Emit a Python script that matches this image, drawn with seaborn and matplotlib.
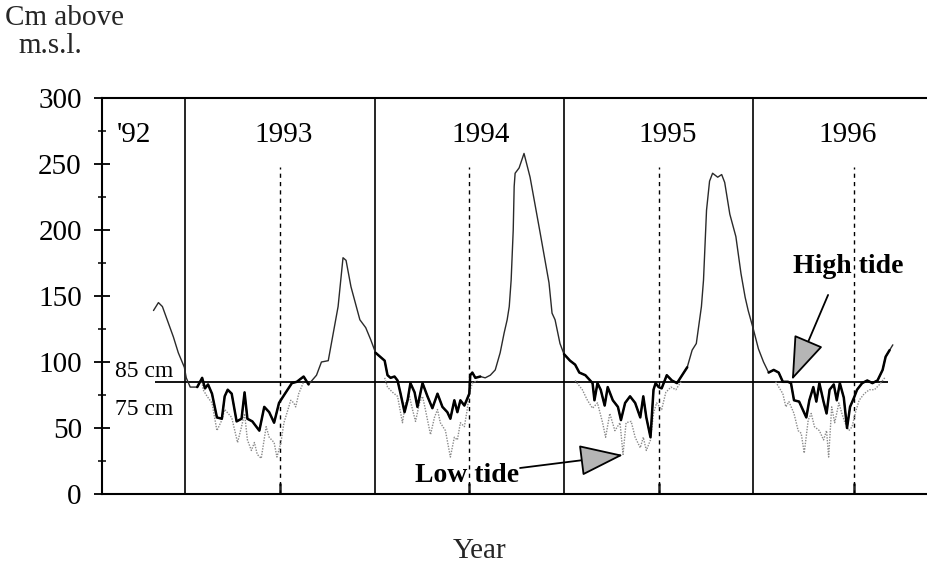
import numpy as np
import pandas as pd
import matplotlib
matplotlib.use("Agg")
import matplotlib.pyplot as plt
import seaborn as sns

# Daily-mean water level (cm above mean sea level), decimal years
high_t = [1992.832, 1992.858, 1992.879, 1992.937, 1992.963, 1992.995, 1993.005, 1993.026,
          1993.063, 1993.089, 1993.104, 1993.120, 1993.141, 1993.167, 1993.193, 1993.208,
          1993.224, 1993.245, 1993.271, 1993.297, 1993.313, 1993.328, 1993.354, 1993.391,
          1993.417, 1993.443, 1993.469, 1993.495, 1993.531, 1993.563, 1993.589, 1993.625,
          1993.651, 1993.693, 1993.719, 1993.755, 1993.792, 1993.807, 1993.833, 1993.849,
          1993.875, 1993.922, 1993.953, 1993.979,
          1994.005, 1994.053, 1994.068, 1994.084, 1994.105, 1994.121, 1994.137, 1994.158,
          1994.174, 1994.189, 1994.211, 1994.226, 1994.253, 1994.279, 1994.305, 1994.332,
          1994.358, 1994.384, 1994.400, 1994.421, 1994.437, 1994.453, 1994.474, 1994.500,
          1994.505, 1994.516, 1994.532, 1994.558, 1994.584, 1994.611, 1994.637, 1994.663,
          1994.684, 1994.700, 1994.711, 1994.721, 1994.732, 1994.737, 1994.742, 1994.763,
          1994.789, 1994.821, 1994.874, 1994.921, 1994.937, 1994.953, 1994.979,
          1995.000, 1995.032, 1995.059, 1995.081, 1995.113, 1995.151, 1995.161, 1995.177,
          1995.194, 1995.215, 1995.231, 1995.258, 1995.285, 1995.301, 1995.323, 1995.349,
          1995.376, 1995.403, 1995.419, 1995.435, 1995.457, 1995.473, 1995.484, 1995.500,
          1995.516, 1995.543, 1995.570, 1995.597, 1995.624, 1995.651, 1995.677, 1995.699,
          1995.726, 1995.737, 1995.753, 1995.769, 1995.785, 1995.812, 1995.833, 1995.849,
          1995.876, 1995.908, 1995.935, 1995.957, 1995.973,
          1996.000, 1996.027, 1996.054, 1996.081, 1996.108, 1996.134, 1996.156, 1996.183,
          1996.199, 1996.215, 1996.242, 1996.280, 1996.296, 1996.317, 1996.333, 1996.349,
          1996.371, 1996.387, 1996.403, 1996.425, 1996.441, 1996.457, 1996.478, 1996.495,
          1996.511, 1996.532, 1996.548, 1996.575, 1996.602, 1996.629, 1996.656, 1996.683,
          1996.699, 1996.720, 1996.737]
high_cm = [139, 145, 142, 119, 107, 96, 88, 81,
           81, 88, 80, 83, 76, 58, 57, 74,
           79, 76, 55, 57, 77, 57, 55, 48,
           66, 62, 54, 69, 77, 84, 85, 89,
           83, 90, 100, 101, 130, 142, 179, 177,
           157, 132, 126, 117,
           107, 101, 90, 88, 89, 86, 76, 62,
           71, 84, 77, 66, 84, 74, 65, 76,
           66, 62, 57, 71, 62, 71, 67, 76,
           90, 92, 88, 89, 88, 90, 94, 107,
           122, 132, 142, 162, 200, 233, 243, 247,
           258, 240, 198, 160, 137, 132, 114,
           106, 101, 98, 92, 90, 84, 71, 84,
           79, 67, 81, 71, 66, 56, 69, 74,
           69, 58, 74, 58, 43, 79, 84, 81,
           80, 90, 86, 84, 90, 96, 109, 114,
           142, 162, 215, 237, 243, 240, 242, 236,
           212, 195, 167, 149, 139,
           125, 110, 100, 92, 94, 92, 85, 85,
           84, 71, 70, 58, 71, 81, 70, 84,
           70, 61, 79, 83, 71, 84, 73, 50,
           66, 73, 79, 84, 86, 84, 86, 94,
           104, 109, 113]

low_1993_t = [1993.089, 1993.094, 1993.115, 1993.141, 1993.167, 1993.193, 1993.208, 1993.245,
              1993.276, 1993.297, 1993.313, 1993.328, 1993.349, 1993.365, 1993.380, 1993.401,
              1993.427, 1993.443, 1993.469, 1993.484, 1993.505, 1993.521, 1993.536, 1993.557,
              1993.573, 1993.583, 1993.599, 1993.625]
low_1993_cm = [85, 79, 74, 69, 48, 56, 64, 58,
               39, 51, 61, 41, 33, 39, 30, 27,
               51, 43, 39, 28, 39, 54, 61, 71,
               69, 66, 76, 85]

low_1994_t = [1994.053, 1994.068, 1994.095, 1994.121, 1994.147, 1994.163, 1994.184, 1994.200,
              1994.216, 1994.237, 1994.253, 1994.268, 1994.295, 1994.316, 1994.332, 1994.347,
              1994.374, 1994.400, 1994.421, 1994.437, 1994.453, 1994.474, 1994.489, 1994.500,
              1994.516, 1994.542]
low_1994_cm = [88, 81, 77, 74, 54, 69, 74, 64,
               55, 69, 74, 64, 45, 58, 64, 54,
               48, 28, 43, 41, 54, 51, 64, 76,
               84, 86]

low_1995_t = [1995.059, 1995.097, 1995.124, 1995.151, 1995.177, 1995.204, 1995.220, 1995.242,
              1995.269, 1995.296, 1995.312, 1995.328, 1995.355, 1995.376, 1995.403, 1995.419,
              1995.435, 1995.457, 1995.473, 1995.489, 1995.516, 1995.538, 1995.565, 1995.591,
              1995.618]
low_1995_cm = [86, 79, 71, 65, 69, 54, 43, 61,
               48, 54, 30, 54, 55, 43, 35, 43,
               33, 41, 61, 69, 64, 77, 81, 79,
               85]

low_1996_t = [1996.118, 1996.156, 1996.172, 1996.188, 1996.215, 1996.237, 1996.253, 1996.269,
              1996.290, 1996.306, 1996.323, 1996.349, 1996.371, 1996.387, 1996.398, 1996.414,
              1996.430, 1996.452, 1996.468, 1996.484, 1996.505, 1996.522, 1996.538, 1996.559,
              1996.586, 1996.613, 1996.640, 1996.667, 1996.694]
low_1996_cm = [85, 76, 66, 70, 61, 48, 46, 31,
               56, 61, 51, 48, 41, 48, 28, 66,
               54, 69, 61, 54, 48, 51, 61, 71,
               76, 79, 79, 83, 88]

year_starts = [1993, 1994, 1995, 1996]
mid_years = [1993.5, 1994.5, 1995.5, 1996.53]
year_labels = ["'92", "1993", "1994", "1995", "1996"]
year_label_x = [1992.73, 1993.52, 1994.56, 1995.55, 1996.50]
threshold_cm = 85

low_series = [(low_1993_t, low_1993_cm), (low_1994_t, low_1994_cm),
              (low_1995_t, low_1995_cm), (low_1996_t, low_1996_cm)]

high = pd.DataFrame({"year": high_t, "cm": high_cm, "seg": 0})
low = pd.concat([pd.DataFrame({"year": t, "cm": v, "seg": i})
                 for i, (t, v) in enumerate(low_series)], ignore_index=True)

# high-tide stretches during the low-water season get the heavier stroke
season_parts = []
for i, (t, _) in enumerate(low_series):
    part = high[(high["year"] >= min(t) - 0.06) & (high["year"] <= max(t) + 0.04)].copy()
    part["seg"] = i
    season_parts.append(part)
season = pd.concat(season_parts, ignore_index=True)

sns.set_theme(style="white")
plt.rcParams["font.family"] = ["Liberation Serif", "DejaVu Serif"]

fig = plt.figure(figsize=(9.28, 5.67), dpi=100)
ax = fig.add_axes([102 / 928, 73 / 567, 826 / 928, 396 / 567])

# year boundaries and mid-year markers
ax.vlines(year_starts, 0, 300, color="black", lw=1.2, zorder=1)
ax.vlines(mid_years, 0, 248, color="black", lw=1.0, linestyles=(0, (3, 3)), zorder=1)
ax.hlines(threshold_cm, 1992.84, 1996.71, color="black", lw=1.3, zorder=2)

sns.lineplot(data=low, x="year", y="cm", units="seg", estimator=None, sort=False,
             color="#8a8a8a", lw=1.0, linestyle=(0, (1, 1)), ax=ax, zorder=3)
sns.lineplot(data=high, x="year", y="cm", units="seg", estimator=None, sort=False,
             color="#2a2a2a", lw=1.0, ax=ax, zorder=4)
sns.lineplot(data=season, x="year", y="cm", units="seg", estimator=None, sort=False,
             color="black", lw=1.8, ax=ax, zorder=5)

ax.set_xlim(1992.56, 1992.56 + 826 / 189.33)
ax.set_ylim(0, 300)
ax.set_xlabel("")
ax.set_ylabel("")

ax.set_yticks(np.arange(0, 301, 50))
ax.set_yticks(np.arange(25, 300, 50), minor=True)
ax.tick_params(axis="y", which="major", direction="inout", length=11, width=1.3,
               labelsize=21, pad=9, colors="black", left=True)
ax.tick_params(axis="y", which="minor", direction="inout", length=6, width=1.3, left=True)
ax.set_xticks(mid_years)
ax.tick_params(axis="x", which="major", direction="in", length=8, width=1.8,
               labelbottom=False, bottom=True)

for side in ["left", "top", "bottom"]:
    ax.spines[side].set_visible(True)
    ax.spines[side].set_color("black")
    ax.spines[side].set_linewidth(1.5)
ax.spines["right"].set_visible(False)

for lab, x in zip(year_labels, year_label_x):
    ax.text(x, 266.7, lab, ha="center", va="baseline", fontsize=21, color="black")

ax.text(1992.63, 88.6, "85 cm", ha="left", va="baseline", fontsize=17, color="black")
ax.text(1992.63, 59.8, "75 cm", ha="left", va="baseline", fontsize=17, color="black")

ax.text(1994.488, 9.1, "Low tide", ha="center", va="baseline", fontsize=20,
        fontweight="bold", color="black")
ax.text(1996.503, 167.4, "High tide", ha="center", va="baseline", fontsize=20,
        fontweight="bold", color="black")

arrow = dict(arrowstyle="-|>,head_length=1.4,head_width=0.5", mutation_scale=20,
             facecolor="#b5b5b5", edgecolor="black", lw=1.3, shrinkA=0, shrinkB=0)
ax.annotate("", xy=(1995.312, 29.5), xytext=(1994.768, 19.7), arrowprops=arrow)
ax.annotate("", xy=(1996.204, 86.4), xytext=(1996.395, 150.8), arrowprops=arrow)

fig.text(5 / 928, 1 - 25 / 567, "Cm above", ha="left", va="baseline", fontsize=21)
fig.text(18 / 928, 1 - 53 / 567, "m.s.l.", ha="left", va="baseline", fontsize=21)
fig.text(480 / 928, 1 - 558 / 567, "Year", ha="center", va="baseline", fontsize=21)

fig.savefig("out.png", dpi=100, facecolor="white")
